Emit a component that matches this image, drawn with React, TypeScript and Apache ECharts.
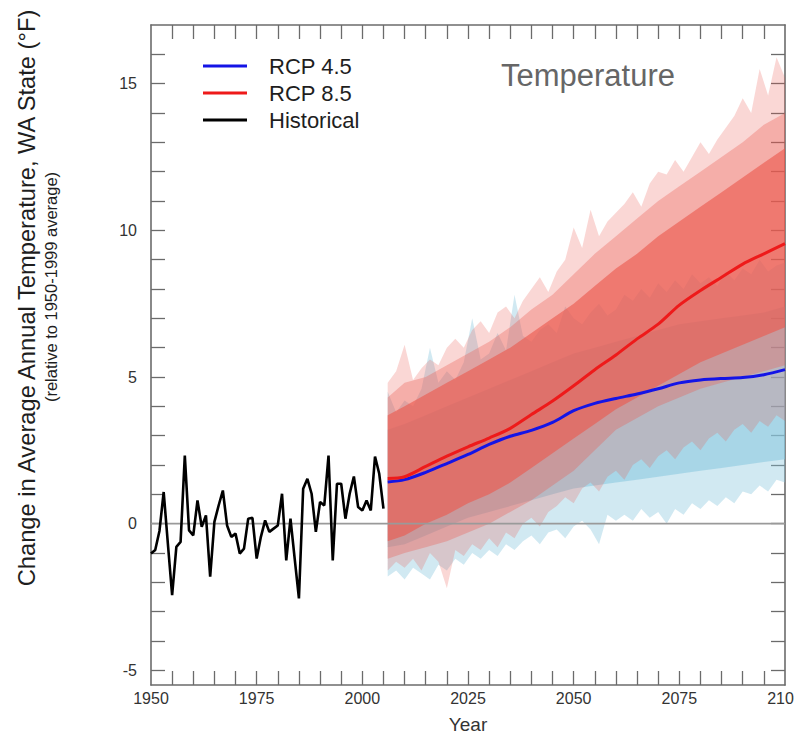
import React, { useEffect, useRef } from "react";
import * as echarts from "echarts";

const FONT = "'Liberation Sans', Arial, Helvetica, sans-serif";

// Historical observations, 1950-2005 (°F change vs 1950-1999 average)
const histStart = 1950;
const histValues = [
  -1.02, -0.9, -0.25, 1.08, -0.7, -2.44, -0.79, -0.62, 2.32, -0.23,
  -0.4, 0.79, -0.11, 0.28, -1.81, 0.06, 0.62, 1.13, -0.06, -0.45,
  -0.34, -1.02, -0.85, 0.17, 0.2, -1.19, -0.45, 0.11, -0.28, -0.17,
  -0.06, 1.02, -1.25, 0.17, -1.2, -2.55, 1.19, 1.53, 1.02, -0.28,
  0.74, 0.62, 2.32, -1.25, 1.36, 1.36, 0.17, 1.02, 1.61, 0.57,
  0.45, 0.79, 0.45, 2.29, 1.7, 0.51,
];

// Ensemble envelopes (every 2 years, 2006-2100)
const envStart = 2006;
const envStep = 2;
const rcp85Upper = [
  4.8, 5.2, 6.1, 4.9, 5.3, 5.6, 5.4, 6.0, 6.3, 6.0, 6.6, 6.9, 6.5, 7.2, 7.4, 7.0,
  7.6, 8.0, 8.4, 7.9, 8.6, 9.0, 10.1, 9.4, 10.7, 9.8, 10.3, 10.6, 10.9, 11.3, 10.8, 11.6,
  12.0, 11.9, 12.4, 12.0, 12.5, 13.0, 12.6, 13.1, 13.5, 13.9, 14.5, 14.0, 15.5, 14.6, 15.9, 15.2,
];
const rcp85Lower = [
  -1.6, -1.3, -1.5, -1.2, -1.6, -1.0, -1.3, -2.2, -0.9, -1.1, -0.7, -0.9, -0.5, -0.8, -0.3, -0.5,
  0.0, 0.2, -0.1, 0.4, 0.6, 0.9, 0.7, 1.2, 1.4, 1.1, 1.6, 1.8, 1.5, 2.0, 2.2, 1.9,
  2.3, 2.5, 2.2, 2.6, 2.8, 2.5, 2.9, 3.1, 2.8, 3.2, 3.4, 3.1, 3.5, 3.3, 3.7, 3.5,
];
const rcp45Upper = [
  4.5, 3.8, 4.2, 4.0, 4.6, 6.0, 4.8, 5.2, 4.9, 5.5, 7.0, 5.6, 5.8, 6.5, 5.9, 7.8,
  6.4, 6.2, 6.6, 6.8, 6.5, 7.4, 7.0, 6.8, 7.2, 7.5, 7.1, 7.3, 7.8, 7.6, 8.0, 7.7,
  8.2, 7.9, 8.3, 8.0, 8.5, 8.2, 8.4, 8.1, 8.6, 8.3, 8.7, 8.5, 9.0, 8.6, 8.8, 8.9,
];
const rcp45Lower = [
  -1.8, -1.6, -1.9, -1.5, -1.7, -1.9, -1.4, -1.6, -1.2, -1.4, -1.0, -1.2, -0.9, -1.1, -0.7, -0.9,
  -0.6, -0.4, -0.7, -0.3, -0.2, -0.5, -0.1, 0.1, -0.2, -0.7, 0.3, 0.1, 0.3, 0.1, 0.5, 0.2,
  0.4, 0.0, 0.5, 0.3, 0.7, 0.5, 0.8, 0.6, 0.9, 0.7, 1.1, 1.0, 1.3, 1.1, 1.5, 1.4,
];

// Ensemble means and denser ranges (2006, 2010, 2015, ... 2100)
const meanYears = [2006, 2010, 2015, 2020, 2025, 2030, 2035, 2040, 2045, 2050, 2055, 2060, 2065, 2070, 2075, 2080, 2085, 2090, 2095, 2100];
const rcp85Mean = [1.54, 1.6, 1.95, 2.3, 2.62, 2.92, 3.25, 3.72, 4.18, 4.7, 5.25, 5.75, 6.3, 6.8, 7.45, 7.95, 8.4, 8.85, 9.2, 9.55];
const rcp45Mean = [1.42, 1.5, 1.75, 2.05, 2.36, 2.7, 2.98, 3.18, 3.45, 3.85, 4.1, 4.27, 4.42, 4.6, 4.8, 4.9, 4.95, 4.98, 5.08, 5.25];
const rcp85MidLo = [-1.2, -1.0, -0.8, -0.6, -0.3, 0.0, 0.4, 0.8, 1.3, 1.8, 2.5, 3.2, 3.6, 4.0, 4.3, 4.6, 4.8, 5.0, 5.2, 5.4];
const rcp85MidHi = [4.3, 4.8, 5.0, 5.4, 5.8, 6.2, 6.7, 7.3, 7.8, 8.5, 9.2, 9.8, 10.4, 11.0, 11.5, 12.0, 12.5, 13.0, 13.6, 14.0];
const rcp85CoreLo = [-0.6, -0.4, 0.0, 0.3, 0.7, 1.0, 1.4, 1.9, 2.4, 2.9, 3.4, 3.9, 4.3, 4.7, 5.1, 5.5, 5.8, 6.1, 6.4, 6.7];
const rcp85CoreHi = [3.7, 4.0, 4.4, 4.8, 5.2, 5.6, 6.0, 6.5, 7.0, 7.5, 8.1, 8.7, 9.2, 9.8, 10.3, 10.8, 11.3, 11.8, 12.3, 12.8];
const rcp45CoreLo = [-0.8, -0.7, -0.4, -0.1, 0.2, 0.4, 0.6, 0.8, 1.0, 1.2, 1.3, 1.4, 1.5, 1.6, 1.7, 1.8, 1.9, 2.0, 2.1, 2.2];
const rcp45CoreHi = [3.2, 3.4, 3.7, 4.0, 4.3, 4.6, 4.9, 5.2, 5.5, 5.8, 6.0, 6.2, 6.4, 6.6, 6.8, 6.9, 7.0, 7.1, 7.2, 7.4];

// Axis ticks / labels
const xTickValues = [1955, 1960, 1965, 1970, 1975, 1980, 1985, 1990, 1995, 2000, 2005, 2010, 2015, 2020, 2025, 2030, 2035, 2040, 2045, 2050, 2055, 2060, 2065, 2070, 2075, 2080, 2085, 2090, 2095];
const xLabelValues = [1950, 1975, 2000, 2025, 2050, 2075, 2100];
const yTickValues = [-5, -4, -3, -2, -1, 0, 1, 2, 3, 4, 5, 6, 7, 8, 9, 10, 11, 12, 13, 14, 15, 16];
const yLabelValues = [-5, 0, 5, 10, 15];

const AXIS_COLOR = "#6b6b6b";
const RED = "235,88,78";
const BLUE = "135,198,222";

function bandSeries(id: string, xs: number[], lo: number[], hi: number[], color: string) {
  return {
    id, type: "custom", silent: true, clip: true,
    data: [[xs[0], lo[0]]],
    encode: { x: 0, y: 1 },
    renderItem: (_params: any, api: any) => {
      const pts: number[][] = [];
      for (let i = 0; i < xs.length; i++) pts.push(api.coord([xs[i], hi[i]]));
      for (let i = xs.length - 1; i >= 0; i--) pts.push(api.coord([xs[i], lo[i]]));
      return { type: "polygon", shape: { points: pts }, style: { fill: color, stroke: "none" } };
    },
  };
}

export default function App() {
  const ref = useRef<HTMLDivElement>(null);
  useEffect(() => {
    if (!ref.current) return;
    const chart = echarts.init(ref.current, null, { renderer: "svg" });
    const envYears = rcp85Upper.map((_, i) => envStart + i * envStep);
    const axisCommon = {
      axisLine: { show: true, onZero: false, lineStyle: { color: AXIS_COLOR, width: 1.6 } },
      splitLine: { show: false },
    };
    const tickStyle = { color: AXIS_COLOR, width: 1.3 };
    chart.setOption({
      animation: false,
      backgroundColor: "#ffffff",
      grid: { left: 151, right: 9, top: 25, bottom: 53, containLabel: false, outerBoundsMode: "none" },
      legend: {
        data: ["RCP 4.5", "RCP 8.5", "Historical"],
        orient: "vertical", left: 198, top: 50,
        itemWidth: 44, itemHeight: 3, itemGap: 5, icon: "rect",
        textStyle: { fontSize: 22, lineHeight: 22, color: "#1e1e1e", fontFamily: FONT, padding: [0, 0, 0, 17] },
      },
      xAxis: [
        {
          type: "value", min: 1950, max: 2100, position: "bottom",
          ...axisCommon,
          axisTick: { show: true, inside: true, length: 14, customValues: xTickValues, lineStyle: tickStyle },
          axisLabel: {
            customValues: xLabelValues, fontSize: 16, color: "#333", fontFamily: FONT, margin: 5,
            formatter: (v: number) => String(v),
          },
          name: "Year", nameLocation: "middle", nameGap: 30,
          nameTextStyle: { fontSize: 19, color: "#333", fontFamily: FONT },
        },
        {
          type: "value", min: 1950, max: 2100, position: "top",
          ...axisCommon,
          axisTick: { show: true, inside: true, length: 14, customValues: xTickValues, lineStyle: tickStyle },
          axisLabel: { show: false },
        },
      ],
      yAxis: [
        {
          type: "value", min: -5.5, max: 17, position: "left",
          ...axisCommon,
          axisTick: { show: true, inside: true, length: 14, customValues: yTickValues, lineStyle: tickStyle },
          axisLabel: {
            customValues: yLabelValues, fontSize: 16, color: "#333", fontFamily: FONT, margin: 14,
            formatter: (v: number) => String(v),
          },
        },
        {
          type: "value", min: -5.5, max: 17, position: "right",
          ...axisCommon,
          axisTick: { show: true, inside: true, length: 14, customValues: yTickValues, lineStyle: tickStyle },
          axisLabel: { show: false },
        },
      ],
      graphic: [
        {
          type: "text", x: 27, y: 298, rotation: Math.PI / 2, silent: true,
          style: {
            text: "Change in Average Annual Temperature, WA State (°F)",
            fontSize: 23.7, fontFamily: FONT, fill: "#1e1e1e", align: "center", verticalAlign: "middle",
          },
        },
        {
          type: "text", x: 51, y: 287, rotation: Math.PI / 2, silent: true,
          style: {
            text: "(relative to 1950-1999 average)",
            fontSize: 16.5, fontFamily: FONT, fill: "#1e1e1e", align: "center", verticalAlign: "middle",
          },
        },
        {
          type: "text", x: 501, y: 75, silent: true,
          style: { text: "Temperature", fontSize: 31, fontFamily: FONT, fill: "#666666", align: "left", verticalAlign: "middle" },
        },
      ],
      series: [
        bandSeries("b45Outer", envYears, rcp45Lower, rcp45Upper, `rgba(${BLUE},0.38)`),
        bandSeries("b45Core", meanYears, rcp45CoreLo, rcp45CoreHi, `rgba(${BLUE},0.55)`),
        bandSeries("r85Outer", envYears, rcp85Lower, rcp85Upper, `rgba(${RED},0.24)`),
        bandSeries("r85Mid", meanYears, rcp85MidLo, rcp85MidHi, `rgba(${RED},0.32)`),
        bandSeries("r85Core", meanYears, rcp85CoreLo, rcp85CoreHi, `rgba(${RED},0.62)`),
        {
          id: "zero", type: "line", silent: true, symbol: "none",
          data: [[1950, 0], [2100, 0]],
          lineStyle: { color: "#9a9a9a", width: 1.6 },
        },
        {
          name: "RCP 4.5", type: "line", symbol: "none", smooth: 0.3, color: "#1414e6",
          data: rcp45Mean.map((v, i) => [meanYears[i], v]),
          lineStyle: { color: "#1414e6", width: 3 },
        },
        {
          name: "RCP 8.5", type: "line", symbol: "none", smooth: 0.3, color: "#ee1a1a",
          data: rcp85Mean.map((v, i) => [meanYears[i], v]),
          lineStyle: { color: "#ee1a1a", width: 3 },
        },
        {
          name: "Historical", type: "line", symbol: "none", color: "#000000",
          data: histValues.map((v, i) => [histStart + i, v]),
          lineStyle: { color: "#000000", width: 2.6 },
        },
      ],
    });
    return () => chart.dispose();
  }, []);
  return <div ref={ref} style={{ position: "absolute", left: 0, top: 0, width: 794, height: 738 }} />;
}
